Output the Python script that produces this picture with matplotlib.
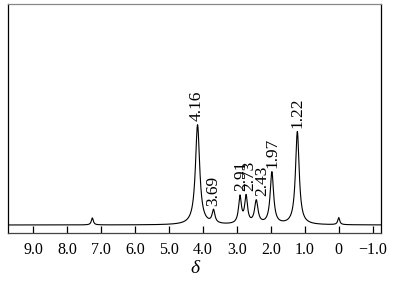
import matplotlib
matplotlib.use("Agg")
import matplotlib.pyplot as plt
import numpy as np

plt.rcParams['font.family'] = ['Liberation Serif', 'DejaVu Serif']

# peak data (chemical shift / ppm, relative height, half width / ppm)
shifts = [7.26, 4.16, 3.69, 2.91, 2.73, 2.43, 1.97, 1.22, 0.0]
heights = [7.0, 100, 13, 27, 27, 23, 52, 93, 7.0]
hwhm = [0.035, 0.075, 0.05, 0.05, 0.05, 0.06, 0.06, 0.065, 0.035]

labels = ['4.16', '3.69', '2.91', '2.73', '2.43', '1.97', '1.22']
label_shift = [4.16, 3.69, 2.91, 2.73, 2.43, 1.97, 1.22]
label_dx = [-1, 0, 1, 3, 6, 1, 0]   # px nudges, as in the original

xticks = [9, 8, 7, 6, 5, 4, 3, 2, 1, 0, -1]
xticklabels = ['9.0', '8.0', '7.0', '6.0', '5.0', '4.0', '3.0', '2.0', '1.0', '0', '\u22121.0']


def spectrum(x):
    y = np.zeros_like(x)
    for s, h, w in zip(shifts, heights, hwhm):
        y += h / (1 + ((x - s) / w) ** 2)
    return y


fig = plt.figure(figsize=(3.94, 2.86), dpi=100)
ax = fig.add_axes([8 / 394, 53.5 / 286, 373 / 394, 228.5 / 286])

x = np.linspace(9.8, -1.3, 6000)
y = spectrum(x)
ax.plot(x, y, color='black', lw=0.8)

ax.set_xlim(9.745, -1.245)
ax.set_ylim(-7.5, 221)
ax.set_yticks([])
ax.set_xticks(xticks)
ax.set_xticklabels(xticklabels, fontsize=11.5)
ax.tick_params(axis='x', direction='in', length=5.4, width=0.9, pad=7)

for sp in ax.spines.values():
    sp.set_linewidth(0.9)
ax.spines['top'].set_color('#888888')
ax.spines['bottom'].set_color('#444444')

for lab, s, dx in zip(labels, label_shift, label_dx):
    ytop = spectrum(np.array([s]))[0]
    ax.annotate(lab, xy=(s, ytop), xytext=(dx * 0.72, 2.5),
                textcoords='offset points', rotation=90,
                ha='center', va='bottom', fontsize=12.5)

ax.set_xlabel('\u03b4', fontstyle='italic', fontsize=14, labelpad=1)

fig.savefig('out.png', dpi=100)
